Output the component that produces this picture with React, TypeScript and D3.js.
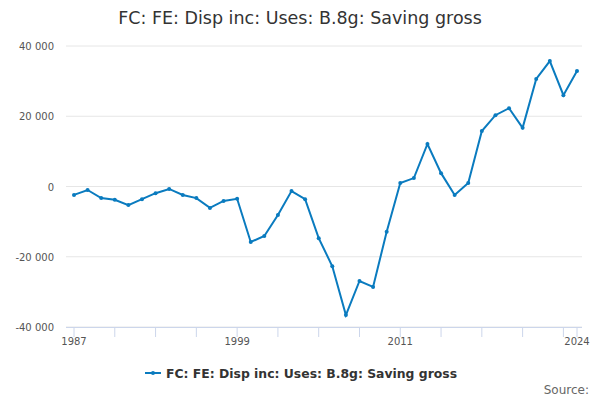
import React from "react";
import * as d3 from "d3";

const years = d3.range(1987, 2025);
const values = [
  -2400, -1000, -3300, -3800, -5300, -3600, -1900, -700, -2400, -3300,
  -6100, -4100, -3500, -15800, -14100, -8100, -1300, -3600, -14700, -22700,
  -36600, -26900, -28600, -12900, 1000, 2400, 12100, 3800, -2400, 1000,
  15800, 20300, 22300, 16700, 30600, 35700, 26000, 32900,
];
const yTicks = [-40000, -20000, 0, 20000, 40000];
const xLabels = [1987, 1999, 2011, 2024];
const xTicks = [...d3.range(1987, 2024, 3), 2024];
const title = "FC: FE: Disp inc: Uses: B.8g: Saving gross";
const color = "#0a7bbf";

export default function App() {
  const x = d3.scaleLinear().domain([1987, 2024]).range([74, 577]);
  const y = d3.scaleLinear().domain([-40000, 40000]).range([327, 46]);
  const fmt = (v: number) => d3.format(",")(v).replace(/,/g, " ").replace("−", "-");
  const line = d3.line<number>().x((_, i) => x(years[i])).y((d) => y(d));
  const font = "'DejaVu Sans', sans-serif";
  return (
    <svg width={600} height={400} style={{ position: "absolute", left: 0, top: 0 }} fontFamily={font}>
      <text x={300} y={24} textAnchor="middle" fontSize={17.5} fill="#333">{title}</text>
      {yTicks.map((t) => (
        <g key={t}>
          <line x1={66} x2={582} y1={y(t)} y2={y(t)} stroke="#e6e6e6" />
          <text x={54} y={y(t) + 4} textAnchor="end" fontSize={10} fill="#555">{fmt(t)}</text>
        </g>
      ))}
      <line x1={66} x2={582} y1={327.5} y2={327.5} stroke="#ccd6eb" />
      {xTicks.map((t) => (
        <line key={t} x1={x(t)} x2={x(t)} y1={327} y2={337} stroke="#ccd6eb" />
      ))}
      {xLabels.map((t) => (
        <text key={t} x={x(t)} y={345} textAnchor="middle" fontSize={10} fill="#555">{t}</text>
      ))}
      <path d={line(values) ?? ""} fill="none" stroke={color} strokeWidth={2} />
      {values.map((v, i) => (
        <circle key={i} cx={x(years[i])} cy={y(v)} r={2} fill={color} />
      ))}
      <line x1={145} x2={161} y1={373} y2={373} stroke={color} strokeWidth={2} />
      <circle cx={153} cy={373} r={2} fill={color} />
      <text x={166} y={378} fontSize={12.4} fontWeight="bold" fill="#333">{title}</text>
      <text x={589} y={394} textAnchor="end" fontSize={12} fill="#666">Source:</text>
    </svg>
  );
}
